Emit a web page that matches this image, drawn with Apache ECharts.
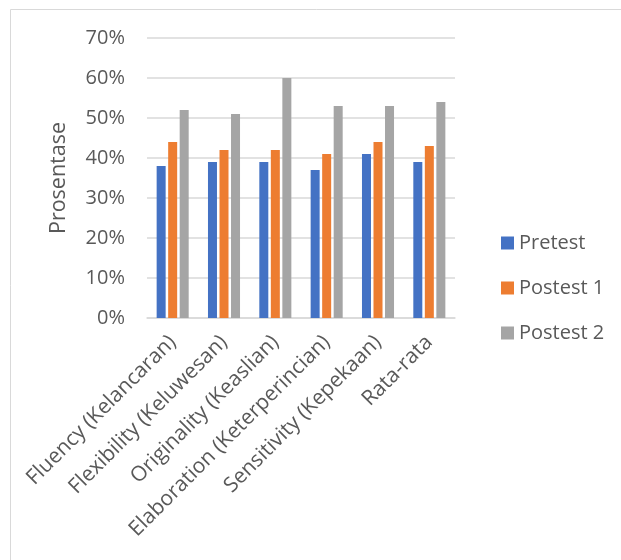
<!DOCTYPE html>
<html>
<head>
<meta charset="utf-8">
<script src="https://cdn.jsdelivr.net/npm/echarts@6/dist/echarts.min.js"></script>
<style>
  html, body { margin: 0; padding: 0; background: #fff; }
  #chart { width: 621px; height: 560px; }
</style>
</head>
<body>
<div id="chart"></div>
<script>
// Aspects of creative thinking, scored as percentages
const categories = [
  'Fluency (Kelancaran)',
  'Flexibility (Keluwesan)',
  'Originality (Keaslian)',
  'Elaboration (Keterperincian)',
  'Sensitivity (Kepekaan)',
  'Rata-rata'
];
const seriesNames = ['Pretest', 'Postest 1', 'Postest 2'];
const pretest = [38, 39, 39, 37, 41, 39];
const postest1 = [44, 42, 42, 41, 44, 43];
const postest2 = [52, 51, 60, 53, 53, 54];
const yTicks = { min: 0, max: 70, step: 10 };
const yAxisTitle = 'Prosentase';

const colors = ['#4472c4', '#ed7d31', '#a5a5a5'];
const textColor = '#595959';
const gridColor = '#d9d9d9';
const fontFamily = '"Open Sans", "Noto Sans", sans-serif';

const chart = echarts.init(document.getElementById('chart'));

const makeBar = (name, data, color) => ({
  name: name,
  type: 'bar',
  data: data,
  barWidth: 9,
  barGap: '28%',
  itemStyle: { color: color },
  emphasis: { disabled: true }
});

chart.setOption({
  animation: false,
  textStyle: { fontFamily: fontFamily },
  color: colors,
  graphic: [{
    type: 'rect',
    shape: { x: 10.5, y: 9.5, width: 620, height: 560 },
    style: { fill: 'none', stroke: gridColor, lineWidth: 1 },
    silent: true
  }],
  grid: { left: 147, right: 166, top: 38, bottom: 242 },
  legend: {
    orient: 'vertical',
    left: 496,
    top: 227,
    itemWidth: 13,
    itemHeight: 13,
    itemGap: 23,
    icon: 'rect',
    data: seriesNames,
    textStyle: { color: textColor, fontSize: 20, fontFamily: fontFamily, lineHeight: 22 }
  },
  xAxis: {
    type: 'category',
    data: categories,
    axisLine: { show: true, lineStyle: { color: gridColor, width: 1.5 } },
    axisTick: { show: false },
    axisLabel: {
      rotate: 45,
      interval: 0,
      margin: 21,
      color: textColor,
      fontSize: 21,
      fontFamily: fontFamily
    }
  },
  yAxis: {
    type: 'value',
    min: yTicks.min,
    max: yTicks.max,
    interval: yTicks.step,
    name: yAxisTitle,
    nameLocation: 'middle',
    nameGap: 77,
    nameRotate: 90,
    nameTextStyle: { color: textColor, fontSize: 21.5, fontFamily: fontFamily },
    axisLine: { show: false },
    axisTick: { show: false },
    axisLabel: {
      formatter: '{value}%',
      color: textColor,
      fontSize: 20,
      margin: 22,
      fontFamily: fontFamily
    },
    splitLine: { lineStyle: { color: gridColor, width: 1.5 } }
  },
  series: [
    makeBar(seriesNames[0], pretest, colors[0]),
    makeBar(seriesNames[1], postest1, colors[1]),
    makeBar(seriesNames[2], postest2, colors[2])
  ]
});
</script>
</body>
</html>
